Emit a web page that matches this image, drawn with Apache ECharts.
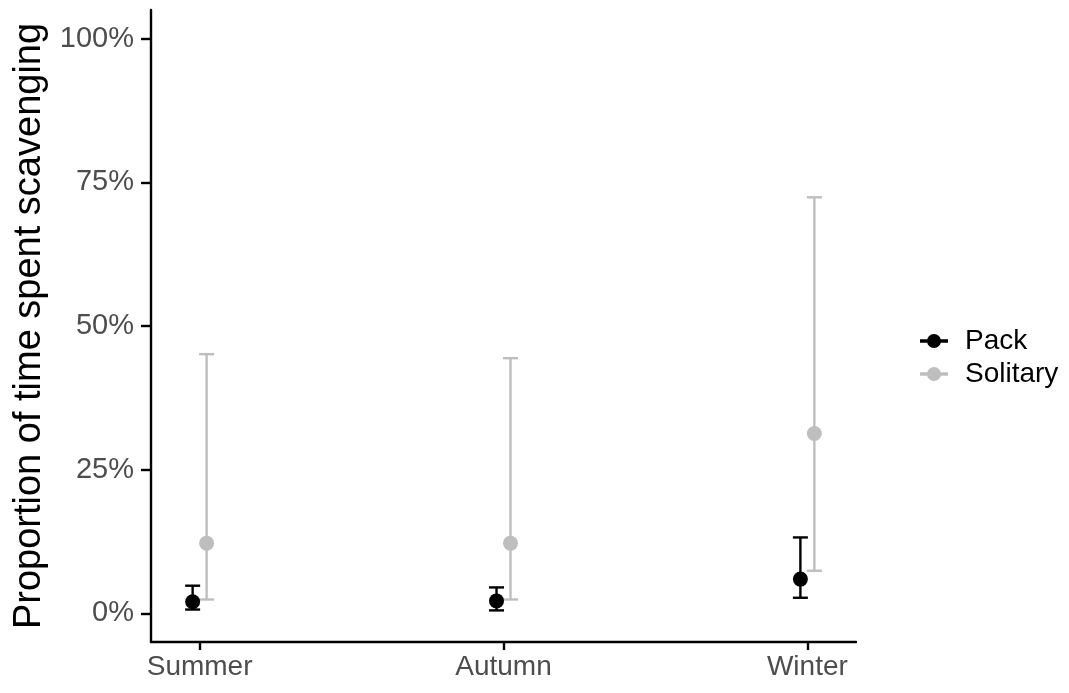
<!DOCTYPE html>
<html>
<head>
<meta charset="utf-8">
<script src="https://cdn.jsdelivr.net/npm/echarts@6/dist/echarts.min.js"></script>
<style>
html,body{margin:0;padding:0;background:#fff;}
#chart{width:1069px;height:693px;}
</style>
</head>
<body>
<div id="chart"></div>
<script>
// ---- data (percent) ----
const categories = ['Summer', 'Autumn', 'Winter'];
const groups = ['Pack', 'Solitary'];
const packMean  = [2.0, 2.15, 5.95];
const packLower = [0.65, 0.5, 2.7];
const packUpper = [4.8, 4.5, 13.2];
const solMean   = [12.2, 12.2, 31.3];
const solLower  = [2.4, 2.4, 7.4];
const solUpper  = [45.1, 44.4, 72.4];
const yTicks = [0, 25, 50, 75, 100];

// ---- styling / layout ----
const colors = { Pack: '#000000', Solitary: '#BEBEBE' };
const dodge = { Pack: -0.023, Solitary: 0.023 };
const FONT = "'Liberation Sans', Arial, sans-serif";

const groupData = {
  Pack: { mean: packMean, lo: packLower, hi: packUpper },
  Solitary: { mean: solMean, lo: solLower, hi: solUpper }
};

function errorSeries(g) {
  const d = groupData[g];
  const col = colors[g];
  return {
    name: g,
    type: 'custom',
    z: 2,
    itemStyle: { color: col },
    data: categories.map((c, i) => [i + 1 + dodge[g], d.lo[i], d.hi[i]]),
    renderItem: function (params, api) {
      const x = api.value(0);
      const pLo = api.coord([x, api.value(1)]);
      const pHi = api.coord([x, api.value(2)]);
      const hw = 7.5;
      const st = { stroke: col, lineWidth: 2.4, fill: null };
      return {
        type: 'group',
        children: [
          { type: 'line', shape: { x1: pLo[0], y1: pLo[1], x2: pHi[0], y2: pHi[1] }, style: st },
          { type: 'line', shape: { x1: pLo[0] - hw, y1: pLo[1], x2: pLo[0] + hw, y2: pLo[1] }, style: st },
          { type: 'line', shape: { x1: pHi[0] - hw, y1: pHi[1], x2: pHi[0] + hw, y2: pHi[1] }, style: st }
        ]
      };
    }
  };
}

function pointSeries(g) {
  const d = groupData[g];
  return {
    name: g,
    type: 'scatter',
    z: 3,
    symbol: 'circle',
    symbolSize: 15,
    itemStyle: { color: colors[g], opacity: 1 },
    data: categories.map((c, i) => [i + 1 + dodge[g], d.mean[i]])
  };
}

const legendIcon = 'path://M0,5.7H7.8V9.3H0Z M22.2,5.7H30V9.3H22.2Z M7.5,7.5A7.5,7.5 0 1,1 22.5,7.5A7.5,7.5 0 1,1 7.5,7.5Z';

const chart = echarts.init(document.getElementById('chart'), null, { renderer: 'canvas' });
chart.setOption({
  backgroundColor: '#ffffff',
  animation: false,
  textStyle: { fontFamily: FONT },
  grid: { left: 151, top: 10, width: 705, height: 632, containLabel: false },
  legend: {
    orient: 'vertical',
    left: 915,
    top: 322,
    itemWidth: 30,
    itemHeight: 14,
    itemGap: 5,
    data: groups.map(g => ({ name: g, icon: legendIcon })),
    textStyle: { fontSize: 28, color: '#000', fontFamily: FONT, lineHeight: 28, padding: [0, 0, 0, 11] }
  },
  xAxis: {
    type: 'value',
    min: 0.84,
    max: 3.16,
    axisLine: { show: true, onZero: false, lineStyle: { color: '#000', width: 2.4 } },
    axisTick: { show: true, customValues: [1, 2, 3], length: 8, lineStyle: { color: '#000', width: 2.4 } },
    axisLabel: {
      show: true, customValues: [1, 2, 3],
      formatter: v => categories[Math.round(v) - 1] || '',
      fontSize: 28, color: '#4D4D4D', margin: 11, fontFamily: FONT
    },
    splitLine: { show: false }
  },
  yAxis: {
    type: 'value',
    min: -5,
    max: 105,
    name: 'Proportion of time spent scavenging',
    nameLocation: 'middle',
    nameRotate: 90,
    nameGap: 101,
    nameTextStyle: { fontSize: 38, color: '#000', fontFamily: FONT },
    axisLine: { show: true, onZero: false, lineStyle: { color: '#000', width: 2.4 } },
    axisTick: { show: true, customValues: yTicks, length: 10, lineStyle: { color: '#000', width: 2.4 } },
    axisLabel: {
      show: true, customValues: yTicks,
      formatter: v => v + '%',
      fontSize: 29, color: '#4D4D4D', margin: 17, fontFamily: FONT
    },
    splitLine: { show: false }
  },
  series: [
    errorSeries('Pack'), errorSeries('Solitary'),
    pointSeries('Pack'), pointSeries('Solitary')
  ]
});
</script>
</body>
</html>
